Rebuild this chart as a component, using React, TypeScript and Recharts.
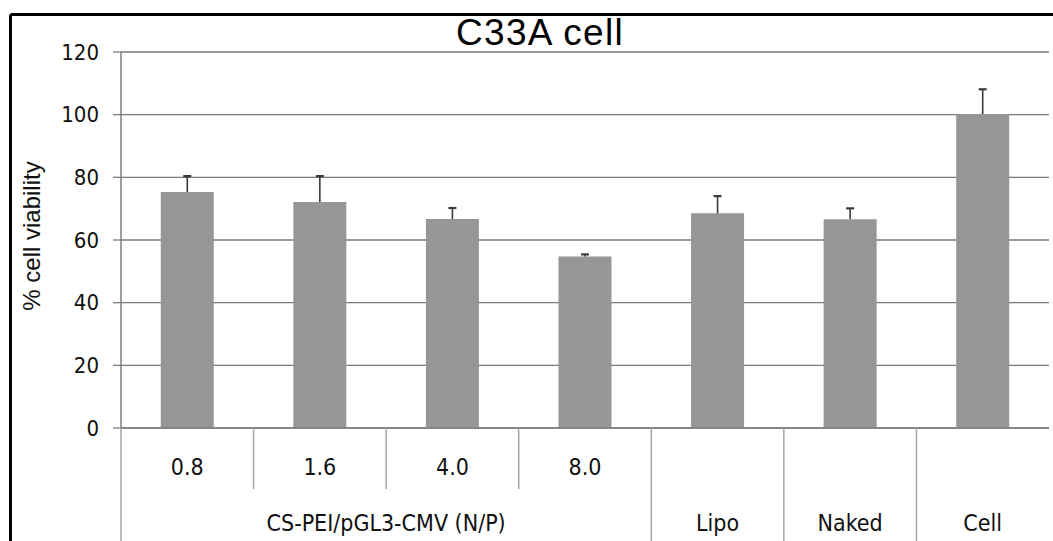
import React from 'react';
import { BarChart, Bar, XAxis, YAxis, CartesianGrid } from 'recharts';

const title = 'C33A cell';
const yAxisLabel = '% cell viability';
const categories = ['0.8', '1.6', '4.0', '8.0', 'Lipo', 'Naked', 'Cell'];
const viability = [75.3, 72.1, 66.7, 54.7, 68.5, 66.6, 100.2];
const errorPlus = [5.1, 8.3, 3.5, 0.7, 5.5, 3.5, 7.9];
const yTicks = [0, 20, 40, 60, 80, 100, 120];
const groupLabel = 'CS-PEI/pGL3-CMV (N/P)';
const groupSize = 4;

const data = categories.map((c, i) => ({ category: c, value: viability[i], err: errorPlus[i] }));

const tickFont = '"DejaVu Sans Condensed", Tahoma, "Noto Sans", sans-serif';
const arialFont = '"Liberation Sans", Arial, sans-serif';

const CategoryTick = (props: any) => {
  const { x, y, payload, index, width, height, visibleTicksCount } = props;
  const count = visibleTicksCount || categories.length;
  const band = width / count;
  const left = x - band / 2;
  const axisH = height || 113;
  const inGroup = index < groupSize;
  const fullLine = index === 0 || !inGroup;
  return (
    <g>
      <line
        x1={left}
        x2={left}
        y1={y}
        y2={fullLine ? y + axisH : y + 61}
        stroke="#a6a6a6"
        strokeWidth={1.5}
      />
      <text
        x={x}
        y={inGroup ? y + 47 : y + 103}
        textAnchor="middle"
        fontFamily={tickFont}
        fontSize={23}
        fill="#111"
      >
        {payload.value}
      </text>
      {index === 0 && (
        <text
          x={left + (band * groupSize) / 2}
          y={y + 103}
          textAnchor="middle"
          fontFamily={tickFont}
          fontSize={23}
          fill="#111"
        >
          {groupLabel}
        </text>
      )}
    </g>
  );
};

const ErrorShape = (props: any) => {
  const { x, y, width, height } = props;
  if (x == null || y == null) return null;
  const cx = x + width / 2;
  return (
    <g>
      <line x1={cx} x2={cx} y1={y + height} y2={y} stroke="#3a3a3a" strokeWidth={1.6} />
      <line x1={cx - 4} x2={cx + 4} y1={y} y2={y} stroke="#3a3a3a" strokeWidth={2.2} />
    </g>
  );
};

const YLabel = (props: any) => {
  const vb = props.viewBox || { x: 0, y: 52, width: 121, height: 376 };
  const cx = vb.x + 39.5;
  const cy = vb.y + vb.height / 2 - 4;
  return (
    <text
      transform={`translate(${cx},${cy}) rotate(-90)`}
      textAnchor="middle"
      fontFamily={arialFont}
      fontSize={24}
      fill="#111"
    >
      {yAxisLabel}
    </text>
  );
};

export default function App() {
  return (
    <div
      style={{
        position: 'absolute',
        left: 0,
        top: 0,
        width: 1053,
        height: 541,
        overflow: 'hidden',
        background: '#fff',
      }}
    >
      <BarChart
        width={1053}
        height={541}
        data={data}
        margin={{ top: 52, right: 4, bottom: 0, left: 0 }}
        barCategoryGap="30%"
      >
        <CartesianGrid horizontal vertical={false} stroke="#7a7a7a" strokeWidth={1.3} />
        <XAxis
          dataKey="category"
          height={113}
          tickSize={0}
          tickMargin={0}
          tickLine={false}
          axisLine={{ stroke: '#7f7f7f', strokeWidth: 1.5 }}
          tick={<CategoryTick />}
          interval={0}
        />
        <YAxis
          domain={[0, 120]}
          ticks={yTicks}
          width={121}
          tickSize={8}
          tickMargin={14}
          tickLine={{ stroke: '#7f7f7f', strokeWidth: 1.3 }}
          axisLine={{ stroke: '#7f7f7f', strokeWidth: 1.5 }}
          tick={{ fontFamily: tickFont, fontSize: 22, fill: '#111' }}
          label={<YLabel />}
          allowDataOverflow
        />
        <YAxis
          yAxisId="frame"
          orientation="right"
          width={0}
          domain={[0, 120]}
          tick={false}
          tickLine={false}
          axisLine={{ stroke: '#3a3a3a', strokeWidth: 1.8 }}
        />
        <Bar dataKey="value" stackId="s" fill="#969696" isAnimationActive={false} />
        <Bar dataKey="err" stackId="s" fill="none" shape={<ErrorShape />} isAnimationActive={false} />
      </BarChart>
      <svg
        width={1053}
        height={541}
        style={{ position: 'absolute', left: 0, top: 0, pointerEvents: 'none' }}
      >
        <line x1={10.5} y1={14.5} x2={1053} y2={14.5} stroke="#000" strokeWidth={3} />
        <line x1={10.5} y1={14.5} x2={10.5} y2={541} stroke="#000" strokeWidth={3} />
        <text
          x={540}
          y={45}
          textAnchor="middle"
          fontFamily={arialFont}
          fontSize={37}
          letterSpacing={1.3}
          fill="#000"
        >
          {title}
        </text>
      </svg>
    </div>
  );
}
